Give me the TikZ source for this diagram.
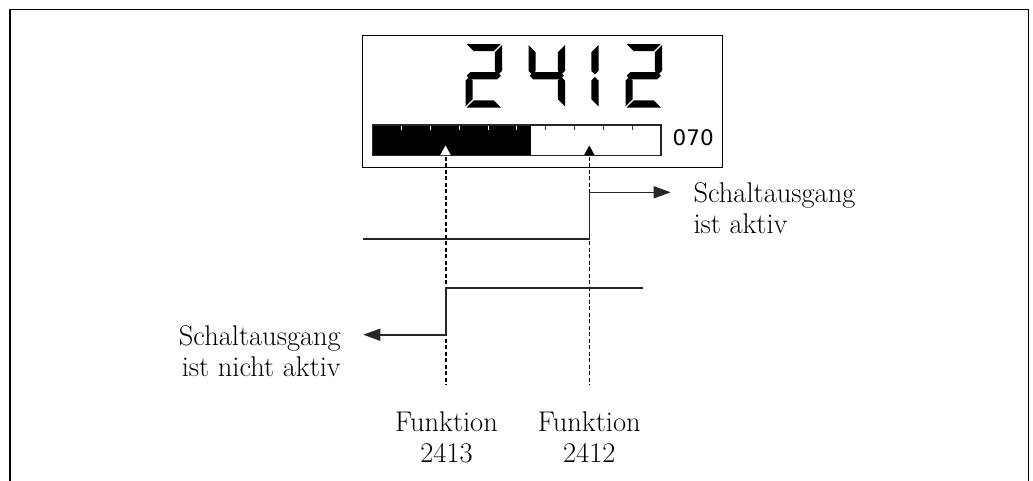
\documentclass[tikz,border=0pt]{standalone}
\usepackage{fontspec}
\newfontfamily\dejasans{DejaVu Sans}
\usetikzlibrary{arrows.meta}
\def\dgT{44}\def\dgBt{107.5}\def\dgM{75.75}\def\dgw{36.5}\def\dgt{7.2}\def\dgg{1.2}
\newcommand\sgA[1]{\fill ({#1+\dgg},\dgT) -- ({#1+\dgw-\dgg},\dgT) -- ({#1+\dgw-\dgg-\dgt},{\dgT+\dgt}) -- ({#1+\dgg+\dgt},{\dgT+\dgt}) -- cycle;}
\newcommand\sgD[1]{\fill ({#1+\dgg},\dgBt) -- ({#1+\dgw-\dgg},\dgBt) -- ({#1+\dgw-\dgg-\dgt},{\dgBt-\dgt}) -- ({#1+\dgg+\dgt},{\dgBt-\dgt}) -- cycle;}
\newcommand\sgG[1]{\fill ({#1+\dgg},\dgM) -- ({#1+\dgg+\dgt/2},{\dgM-\dgt/2}) -- ({#1+\dgw-\dgg-\dgt/2},{\dgM-\dgt/2}) -- ({#1+\dgw-\dgg},\dgM) -- ({#1+\dgw-\dgg-\dgt/2},{\dgM+\dgt/2}) -- ({#1+\dgg+\dgt/2},{\dgM+\dgt/2}) -- cycle;}
\newcommand\sgB[1]{\fill ({#1+\dgw},{\dgT+\dgg}) -- ({#1+\dgw},{\dgM-\dgg-\dgt/2}) -- ({#1+\dgw-\dgt/2},{\dgM-\dgg}) -- ({#1+\dgw-\dgt},{\dgM-\dgg-\dgt/2}) -- ({#1+\dgw-\dgt},{\dgT+\dgg+\dgt}) -- cycle;}
\newcommand\sgC[1]{\fill ({#1+\dgw},{\dgBt-\dgg}) -- ({#1+\dgw},{\dgM+\dgg+\dgt/2}) -- ({#1+\dgw-\dgt/2},{\dgM+\dgg}) -- ({#1+\dgw-\dgt},{\dgM+\dgg+\dgt/2}) -- ({#1+\dgw-\dgt},{\dgBt-\dgg-\dgt}) -- cycle;}
\newcommand\sgF[1]{\fill ({#1},{\dgT+\dgg}) -- ({#1},{\dgM-\dgg-\dgt/2}) -- ({#1+\dgt/2},{\dgM-\dgg}) -- ({#1+\dgt},{\dgM-\dgg-\dgt/2}) -- ({#1+\dgt},{\dgT+\dgg+\dgt}) -- cycle;}
\newcommand\sgE[1]{\fill ({#1},{\dgBt-\dgg}) -- ({#1},{\dgM+\dgg+\dgt/2}) -- ({#1+\dgt/2},{\dgM+\dgg}) -- ({#1+\dgt},{\dgM+\dgg+\dgt/2}) -- ({#1+\dgt},{\dgBt-\dgg-\dgt}) -- cycle;}
\begin{document}
\begin{tikzpicture}[x=1pt,y=-1pt,
  frame/.style={line width=1.6pt,black},
  sigline/.style={line width=1.6pt,black!85},
  guide/.style={line width=1.1pt,black,dash pattern=on 4pt off 2.5pt},
  lbl/.style={font=\fontsize{28.5}{31}\selectfont,inner sep=0pt},
  arr/.style={-{Triangle[length=17pt,width=12pt]}}]
\useasboundingbox (0,0) rectangle (1033,480);
\clip (0,0) rectangle (1033,480);
% outer frame
\draw[frame] (10,500) -- (10,9.3) -- (1028.3,9.3) -- (1028.3,500);
% display
\node[draw,line width=1.2pt,minimum width=360pt,minimum height=132pt,anchor=north west,inner sep=0pt] (disp) at (362,35) {};
% digits 2 4 1 2
\sgA{465.5}\sgB{465.5}\sgG{465.5}\sgE{465.5}\sgD{465.5}
\sgF{528.5}\sgG{528.5}\sgB{528.5}\sgC{528.5}
\sgB{562}\sgC{562}
\sgA{625.5}\sgB{625.5}\sgG{625.5}\sgE{625.5}\sgD{625.5}
% bar graph
\fill (372.7,125) rectangle (530.7,155.7);
\draw[line width=1.2pt,black!85] (372.7,125) rectangle (661,155.7);
\foreach \k in {1,...,5}{\pgfmathsetmacro\tx{372.7+28.83*\k}\draw[white,line width=1pt] (\tx,125.5) -- (\tx,130);}
\foreach \k in {6,...,9}{\pgfmathsetmacro\tx{372.7+28.83*\k}\draw[black!80,line width=1pt] (\tx,125.5) -- (\tx,130);}
\fill[white] (445.5,145.5) -- (450.8,155.2) -- (440.2,155.2) -- cycle;
\fill[black] (589.3,145.5) -- (594.6,155.2) -- (584,155.2) -- cycle;
\node[font=\dejasans\fontsize{21.5}{24}\selectfont,anchor=base west,inner sep=0pt] (val) at (672.5,145.7) {070};
% markers and guides
\coordinate (m1) at (446,156.5);
\coordinate (m2) at (589.3,156.5);
\coordinate (d1) at (446,385);
\coordinate (d2) at (589.3,385);
\draw[guide] (m1) -- (d1);
\draw[guide] (m2) -- (d2);
% switching lines
\coordinate (a0) at (362.7,239);
\coordinate (a1) at (589.3,239);
\coordinate (a2) at (589.3,192.3);
\coordinate (a3) at (670.7,192.3);
\draw[sigline,arr] (a0) -- (a1) -- (a2) -- (a3);
\coordinate (b0) at (643.3,287.7);
\coordinate (b1) at (446,287.7);
\coordinate (b2) at (446,334.7);
\coordinate (b3) at (363.3,334.7);
\draw[sigline,arr] (b0) -- (b1) -- (b2) -- (b3);
% labels
\node[lbl,align=left,anchor=north west] (on) at (693.3,182.5) {Schaltausgang\\ist aktiv};
\node[lbl,align=right,anchor=north east] (off) at (341,325) {Schaltausgang\\ist nicht aktiv};
\node[lbl,align=center,anchor=north] (f13) at (446.5,411.8) {Funktion\\2413};
\node[lbl,align=center,anchor=north] (f12) at (589.3,411.8) {Funktion\\2412};
\end{tikzpicture}
\end{document}
